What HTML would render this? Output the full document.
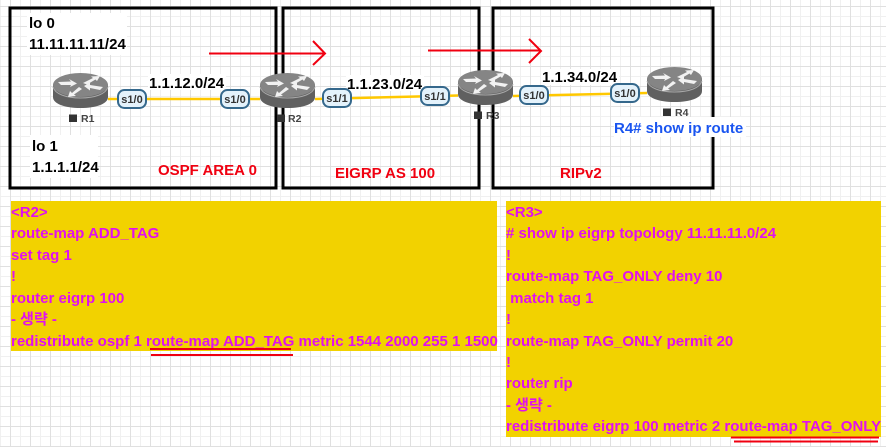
<!DOCTYPE html>
<html>
<head>
<meta charset="utf-8">
<style>
html,body{margin:0;padding:0;background:#fff}
body{width:886px;height:447px;overflow:hidden;position:relative}
svg{position:absolute;left:0;top:0;display:block}
text{font-family:"Liberation Sans","Noto Sans CJK KR",sans-serif}
.b{font-weight:bold;font-size:15px;fill:#000}
.r{font-weight:bold;font-size:15px;fill:#f00010}
.m{font-weight:bold;font-size:15px;fill:#e010f0}
.p{font-weight:bold;font-size:11px;fill:#333;text-anchor:middle}
.n{font-size:10.5px;font-weight:bold;fill:#444}
</style>
</head>
<body>
<svg width="886" height="447" viewBox="0 0 886 447" xmlns="http://www.w3.org/2000/svg">
<defs>
<pattern id="g" width="20" height="20" patternUnits="userSpaceOnUse" x="0" y="6">
<path d="M0.500 0V20M0 10.500H20" stroke="#f0f0f0" stroke-width="1" fill="none"/>
<path d="M10.500 0V20M0 0.500H20" stroke="#e0e0e0" stroke-width="1" fill="none"/>
</pattern>
<g id="rt">
<path d="M0 12V24C0 31 12 35 27.500 35S55 31 55 24V12Z" fill="#606060"/>
<ellipse cx="27.500" cy="12" rx="27.500" ry="12" fill="#858585"/>
<path d="M0 14C2 21 13 25 27.500 25S53 21 55 14" fill="none" stroke="#a8a8a8" stroke-width="1"/>
<path d="M5 9L18 8.500 16 6 24 10.500 17 14 18 12 8 12Z" fill="#f2f2f2"/>
<path d="M30 10L40 5 38 3.500 47 3 44 8 42.500 6.500 34 11.500Z" fill="#f2f2f2"/>
<path d="M31 13L37 9.500 37 12 50 14 47 17 37 15 37 17.500Z" fill="#f2f2f2"/>
<path d="M26 14L19 20 17 18 15 24 23 23 21 21.500 29 16Z" fill="#f2f2f2"/>
</g>
</defs>
<rect width="886" height="447" fill="url(#g)"/>

<!-- Area boxes -->
<rect x="10" y="8" width="266" height="180" fill="none" stroke="#000" stroke-width="3"/>
<rect x="283" y="8" width="196" height="180" fill="none" stroke="#000" stroke-width="3"/>
<rect x="493" y="8" width="220" height="180" fill="none" stroke="#000" stroke-width="3"/>

<!-- white patches -->
<rect x="27" y="13" width="100" height="42" fill="#fff"/>
<rect x="30" y="135" width="68" height="43" fill="#fff"/>
<rect x="148" y="74" width="78" height="16" fill="#fff"/>
<rect x="346" y="75" width="78" height="16" fill="#fff"/>
<rect x="541" y="69" width="78" height="16" fill="#fff"/>
<rect x="614" y="117" width="132" height="20" fill="#fff"/>

<!-- links -->
<path d="M108 99H260" stroke="#ffc800" stroke-width="2.500"/>
<path d="M315 99L458 95.500" stroke="#ffc800" stroke-width="2.500"/>
<path d="M513 96L647 93" stroke="#ffc800" stroke-width="2.500"/>

<!-- routers -->
<use href="#rt" x="53" y="73"/>
<use href="#rt" x="260" y="73"/>
<use href="#rt" x="458" y="70"/>
<use href="#rt" x="647" y="67"/>

<!-- router labels -->
<rect x="69" y="114.500" width="8" height="7.500" fill="#333"/><text class="n" x="81" y="122">R1</text>
<rect x="277" y="114.500" width="8" height="7.500" fill="#333"/><text class="n" x="288" y="122">R2</text>
<rect x="474" y="111.500" width="8" height="7.500" fill="#333"/><text class="n" x="486" y="119">R3</text>
<rect x="663" y="108.500" width="8" height="7.500" fill="#333"/><text class="n" x="675" y="116">R4</text>

<!-- pills -->
<g fill="#e4f2fb" stroke="#35688c" stroke-width="2">
<rect x="118" y="90" width="28" height="18" rx="6.500"/>
<rect x="221" y="90" width="28" height="18" rx="6.500"/>
<rect x="323" y="89" width="28" height="18" rx="6.500"/>
<rect x="421" y="87" width="28" height="18" rx="6.500"/>
<rect x="520" y="86" width="28" height="18" rx="6.500"/>
<rect x="611" y="84" width="28" height="18" rx="6.500"/>
</g>
<text class="p" x="132" y="103">s1/0</text>
<text class="p" x="235" y="103">s1/0</text>
<text class="p" x="337" y="102">s1/1</text>
<text class="p" x="435" y="100">s1/1</text>
<text class="p" x="534" y="99">s1/0</text>
<text class="p" x="625" y="97">s1/0</text>

<!-- black labels -->
<text class="b" x="29" y="28">lo 0</text>
<text class="b" x="29" y="49">11.11.11.11/24</text>
<text class="b" x="32" y="151">lo 1</text>
<text class="b" x="32" y="172">1.1.1.1/24</text>
<text class="b" x="149" y="88">1.1.12.0/24</text>
<text class="b" x="347" y="89">1.1.23.0/24</text>
<text class="b" x="542" y="82">1.1.34.0/24</text>

<!-- red labels -->
<text class="r" x="158" y="175">OSPF AREA 0</text>
<text class="r" x="335" y="178">EIGRP AS 100</text>
<text class="r" x="560" y="178">RIPv2</text>
<text x="614" y="133" style="font-weight:bold;font-size:15px;fill:#1a55f0">R4# show ip route</text>

<!-- red arrows -->
<path d="M209 53.500H325M313 41L325 53.500 313 65" fill="none" stroke="#f00010" stroke-width="2"/>
<path d="M428 50.500H540M529 39L541 51 529 63" fill="none" stroke="#f00010" stroke-width="2"/>

<!-- yellow boxes -->
<rect x="11" y="201" width="486" height="150" fill="#f2d200"/>
<rect x="506" y="201" width="375" height="236" fill="#f2d200"/>

<text class="m" x="11" y="217">&lt;R2&gt;</text>
<text class="m" x="11" y="238">route-map ADD_TAG</text>
<text class="m" x="11" y="260">set tag 1</text>
<text class="m" x="11" y="281">!</text>
<text class="m" x="11" y="303">router eigrp 100</text>
<text class="m" x="11" y="324">- 생략 -</text>
<text class="m" x="11" y="346">redistribute ospf 1 route-map ADD_TAG metric 1544 2000 255 1 1500</text>

<text class="m" x="506" y="217">&lt;R3&gt;</text>
<text class="m" x="506" y="238"># show ip eigrp topology 11.11.11.0/24</text>
<text class="m" x="506" y="260">!</text>
<text class="m" x="506" y="281">route-map TAG_ONLY deny 10</text>
<text class="m" x="506" y="303">&#160;match tag 1</text>
<text class="m" x="506" y="324">!</text>
<text class="m" x="506" y="346">route-map TAG_ONLY permit 20</text>
<text class="m" x="506" y="367">!</text>
<text class="m" x="506" y="388">router rip</text>
<text class="m" x="506" y="410">- 생략 -</text>
<text class="m" x="506" y="431">redistribute eigrp 100 metric 2 route-map TAG_ONLY</text>

<!-- underlines -->
<path d="M150 349H291M151 355H293" stroke="#f00010" stroke-width="2" fill="none"/>
<path d="M731 437.500H879M734 441.500H878" stroke="#f00010" stroke-width="2" fill="none"/>
</svg>
</body>
</html>
